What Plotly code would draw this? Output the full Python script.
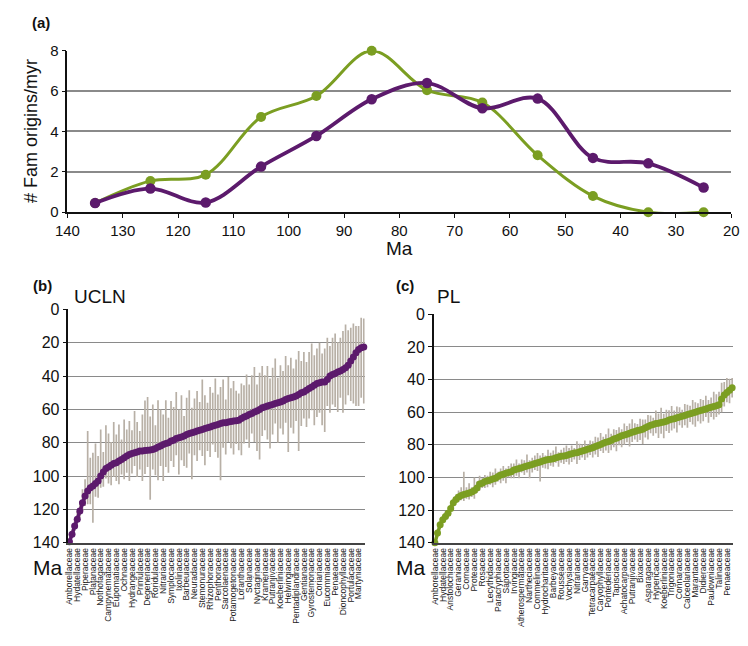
import plotly.graph_objects as go

# ---------------- (a) family origination rate per 10-Myr bin ----------------
bin_mid_ma = [135, 125, 115, 105, 95, 85, 75, 65, 55, 45, 35, 25]
rate_pl = [0.45, 1.55, 1.86, 4.72, 5.76, 8.0, 6.05, 5.44, 2.82, 0.8, 0.0, 0.0]
rate_ucln = [0.45, 1.17, 0.48, 2.26, 3.78, 5.6, 6.4, 5.15, 5.63, 2.69, 2.42, 1.22]
rate_ticks = [140, 130, 120, 110, 100, 90, 80, 70, 60, 50, 40, 30, 20]

# ---------------- (b) UCLN family stem ages (sorted, oldest first) ----------------
ucln_labels = [
    "Amborellaceae", "Hydatellaceae", "Piperaceae", "Platanaceae", "Nothofagaceae",
    "Campynemataceae", "Eupomatiaceae", "Ochnaceae", "Hydrangeaceae", "Primulaceae",
    "Degeneriaceae", "Roridulaceae", "Nitrariaceae", "Symplocaceae", "Ixoliriaceae",
    "Barbeuiaceae", "Neuradaceae", "Stemonuraceae", "Rhizophoraceae", "Penthoraceae",
    "Sarcolaenaceae", "Potamogetonaceae", "Loranthaceae", "Solanaceae", "Nyctaginaceae",
    "Krameriaceae", "Putranjivaceae", "Koeberliniaceae", "Helwingiaceae",
    "Pentadiplandraceae", "Gentianaceae", "Gyrostemonaceae", "Coriariaceae",
    "Eucommiaceae", "Penaeaceae", "Dioncophyllaceae", "Portulacaceae", "Martyniaceae",
]
ucln_age = [
    139.5, 135, 130, 126, 121, 116, 112, 109, 107, 106,
    104.5, 103, 100, 97.5, 95.5, 94.5, 93.5, 92.5, 92, 91,
    90, 89, 88, 87, 86.5, 86, 85.5, 85, 85, 84.7,
    84.5, 84.3, 84, 83.5, 82.5, 82, 81, 80.5, 80, 79,
    78.5, 77.5, 77, 76.5, 76, 75, 74.5, 74, 73.5, 73,
    72.5, 72, 71.5, 71, 70.5, 70, 69.5, 69, 68.5, 68,
    68, 67.5, 67.3, 67, 66.8, 66.5, 65.5, 64.5, 64, 63,
    62.5, 61.5, 61, 60, 59, 58.5, 58, 57.5, 57, 56.5,
    56, 55.5, 55, 54, 53.5, 53, 52.5, 52, 51, 50,
    49.5, 48.5, 47.5, 46.5, 45.5, 44.5, 44, 43.5, 43.5, 42,
    40, 39, 38.5, 37.5, 37, 36, 35, 33.5, 31, 28.5,
    26, 24, 23, 22.5,
]
ucln_err_young = [
    2, 3, 4, 5, 6, 8, 10, 36, 18, 20,
    24, 15, 28, 12, 26, 20, 14, 25, 17, 22,
    12, 23, 16, 20, 14, 25, 18, 12, 22, 30,
    32, 20, 27, 14, 28, 22, 18, 26, 15, 24,
    20, 28, 17, 25, 12, 22, 26, 15, 20, 24,
    17, 30, 20, 15, 24, 20, 28, 18, 22, 26,
    14, 27, 20, 24, 18, 16, 21, 19, 25, 18,
    23, 27, 16, 22, 25, 19, 24, 16, 22, 27,
    15, 22, 18, 26, 20, 24, 17, 22, 26, 19,
    24, 17, 22, 26, 18, 21, 24, 17, 20, 25,
    18, 22, 24, 18, 20, 23, 26, 21, 20, 20,
    16, 14, 18, 17,
]
ucln_err_old = [
    0, 2, 3, 3, 4, 5, 6, 8, 10, 22,
    8, 10, 7, 9, 6, 10, 12, 8, 11, 14,
    9, 13, 10, 16, 12, 8, 15, 11, 18, 14,
    10, 30, 12, 16, 20, 12, 22, 14, 18, 12,
    16, 10, 22, 14, 18, 20, 12, 28, 14, 18,
    12, 16, 22, 14, 18, 11, 16, 20, 34, 15,
    19, 12, 16, 20, 14, 18, 22, 16, 14, 20,
    12, 18, 24, 30, 17, 14, 20, 26, 18, 12,
    24, 16, 20, 14, 32, 18, 22, 15, 34, 20,
    16, 22, 18, 14, 24, 20, 18, 26, 30, 16,
    22, 18, 20, 24, 16, 26, 22, 18, 24, 28,
    32, 34, 30, 34,
]

# ---------------- (c) PL family stem ages (sorted, oldest first) ----------------
pl_labels = [
    "Amborellaceae", "Hydatellaceae", "Aristolochiaceae", "Geraniaceae", "Cornaceae",
    "Proteaceae", "Rosaceae", "Lecythidaceae", "Paracryphiaceae", "Sapotaceae",
    "Irvingiaceae", "Atherospermataceae", "Nartheciaceae", "Commelinaceae",
    "Hydrocharitaceae", "Barbeyaceae", "Rousseaceae", "Vochysiaceae", "Nitrariaceae",
    "Garryaceae", "Tetracarpaeaceae", "Caryophyllaceae", "Pontederiaceae",
    "Tapisciaceae", "Achatocarpaceae", "Putranjivaceae", "Bixaceae", "Asparagaceae",
    "Hypericaceae", "Koeberliniaceae", "Trigoniaceae", "Connaraceae",
    "Calceolariaceae", "Marantaceae", "Didieraceae", "Paulowniaceae", "Talinaceae",
    "Penaeaceae",
]
pl_age = [
    140, 134, 129, 126, 124, 122, 119, 115.5, 113.5, 112,
    111, 110.5, 110, 109.5, 109, 108, 106.5, 104, 103.5, 102.5,
    102, 101.5, 101, 100.5, 99.5, 98.5, 98, 97.5, 97, 96.5,
    95.5, 95, 94.5, 94, 93.5, 93, 92.5, 92, 91.5, 91,
    90.5, 90, 89.5, 89, 88.8, 88.5, 88, 87.5, 87, 86.8,
    86.5, 86, 85.5, 85, 84.8, 84.3, 83.8, 83.3, 82.8, 82.3,
    81.8, 81, 80.5, 79.8, 79, 78.5, 78, 77.3, 76.5, 76,
    75.3, 74.5, 74, 73.5, 73, 72.3, 71.8, 71.3, 71, 70.5,
    69.5, 68.8, 68, 67.5, 67, 66.8, 66.3, 66, 65.5, 64.8,
    64.3, 64, 63.5, 63, 62.5, 62, 61.5, 61, 60.5, 60,
    59.5, 59, 58.5, 58, 57.5, 57, 56.5, 56, 55.5, 52,
    49.5, 48, 46.5, 45,
]
pl_err_young = [
    1, 2, 2, 2, 3, 2, 3, 2, 3, 4,
    5, 14, 4, 6, 3, 8, 4, 5, 3, 4,
    3, 5, 4, 6, 3, 4, 5, 3, 4, 5,
    4, 6, 3, 5, 4, 7, 3, 4, 5, 6,
    4, 5, 3, 6, 4, 5, 7, 3, 4, 5,
    6, 4, 5, 3, 7, 5, 4, 6, 3, 5,
    4, 6, 5, 7, 4, 5, 8, 4, 6, 5,
    6, 4, 7, 5, 6, 8, 5, 4, 7, 6,
    5, 7, 6, 4, 8, 6, 9, 5, 7, 6,
    8, 5, 7, 6, 4, 7, 6, 5, 8, 6,
    5, 7, 6, 8, 5, 6, 9, 7, 8, 10,
    8, 9, 7, 6,
]
pl_err_old = [
    0, 2, 2, 2, 2, 3, 2, 3, 2, 3,
    3, 4, 3, 4, 3, 5, 3, 4, 3, 4,
    4, 3, 5, 4, 3, 5, 4, 6, 3, 4,
    5, 4, 6, 3, 5, 4, 8, 5, 4, 5,
    12, 4, 5, 6, 4, 5, 3, 6, 4, 5,
    4, 6, 5, 4, 7, 5, 4, 6, 5, 4,
    6, 5, 7, 4, 6, 5, 7, 6, 5, 8,
    5, 7, 6, 5, 8, 6, 5, 7, 6, 9,
    6, 8, 5, 7, 6, 9, 7, 10, 6, 8,
    7, 6, 9, 5, 7, 6, 8, 5, 7, 9,
    6, 8, 7, 5, 9, 6, 8, 7, 6, 8,
    7, 6, 8, 6,
]

# ---------------- styling ----------------
W, H = 748, 646
FONT = "Liberation Sans, Arial, sans-serif"
PURPLE = "#5c1a6c"
GREEN = "#7b9e22"
BAR_GREY = "#b8b0a6"
GRID = "#8a8a8a"
LABEL_STEP = 3


def px_x(x):
    return x / W


def px_y(y):
    return 1 - y / H


fig = go.Figure()

# (a) rate curves
fig.add_trace(go.Scatter(
    x=bin_mid_ma, y=rate_pl, mode="lines+markers", xaxis="x", yaxis="y",
    line=dict(color=GREEN, width=3, shape="spline", smoothing=1.0),
    marker=dict(color=GREEN, size=10), cliponaxis=False, showlegend=False,
))
fig.add_trace(go.Scatter(
    x=bin_mid_ma, y=rate_ucln, mode="lines+markers", xaxis="x", yaxis="y",
    line=dict(color=PURPLE, width=3.8, shape="spline", smoothing=1.0),
    marker=dict(color=PURPLE, size=10.5), cliponaxis=False, showlegend=False,
))

# (b) UCLN ages with credibility bars
ucln_idx = list(range(len(ucln_age)))
fig.add_trace(go.Scatter(
    x=ucln_idx, y=ucln_age, mode="markers", xaxis="x2", yaxis="y2",
    marker=dict(size=1, color="rgba(0,0,0,0)"),
    error_y=dict(type="data", symmetric=False, array=ucln_err_old,
                 arrayminus=ucln_err_young, color=BAR_GREY, thickness=1.7, width=0),
    showlegend=False, hoverinfo="skip",
))
fig.add_trace(go.Scatter(
    x=ucln_idx, y=ucln_age, mode="lines+markers", xaxis="x2", yaxis="y2",
    line=dict(color=PURPLE, width=3.5),
    marker=dict(color=PURPLE, size=7), cliponaxis=False, showlegend=False,
))

# (c) PL ages with confidence bars
pl_idx = list(range(len(pl_age)))
fig.add_trace(go.Scatter(
    x=pl_idx, y=pl_age, mode="markers", xaxis="x3", yaxis="y3",
    marker=dict(size=1, color="rgba(0,0,0,0)"),
    error_y=dict(type="data", symmetric=False, array=pl_err_old,
                 arrayminus=pl_err_young, color=BAR_GREY, thickness=1.7, width=0),
    showlegend=False, hoverinfo="skip",
))
fig.add_trace(go.Scatter(
    x=pl_idx, y=pl_age, mode="lines+markers", xaxis="x3", yaxis="y3",
    line=dict(color=GREEN, width=3.5),
    marker=dict(color=GREEN, size=7), cliponaxis=False, showlegend=False,
))

tick_font = dict(family=FONT, size=15, color="#111")
cat_font = dict(family=FONT, size=8.5, color="#222")

fig.update_layout(
    width=W, height=H, margin=dict(l=0, r=0, t=0, b=0),
    paper_bgcolor="white", plot_bgcolor="white",
    font=dict(family=FONT, color="#111"),
    xaxis=dict(
        domain=[px_x(56), px_x(739)], range=[140, 20], anchor="y",
        tickvals=rate_ticks, tickfont=tick_font, ticks="outside", ticklen=4,
        tickcolor="#111", showline=True, linecolor="#111", linewidth=1.5,
        showgrid=False, zeroline=False,
    ),
    yaxis=dict(
        domain=[px_y(209), px_y(43)], range=[0, 8], anchor="x", dtick=2,
        tickfont=tick_font, ticks="outside", ticklen=4, tickcolor="#111",
        showline=True, linecolor="#111", linewidth=1.5,
        showgrid=True, gridcolor=GRID, gridwidth=1.6, zeroline=False,
    ),
    xaxis2=dict(
        domain=[px_x(57), px_x(362)], range=[-0.4, len(ucln_age) - 0.6], anchor="y2",
        tickvals=ucln_idx[::LABEL_STEP], ticktext=ucln_labels, tickangle=-90,
        tickfont=cat_font, ticks="", showline=True, linecolor="#444", linewidth=2,
        showgrid=False, zeroline=False,
    ),
    yaxis2=dict(
        domain=[px_y(549), px_y(309)], range=[140, 0], anchor="x2", dtick=20,
        tickfont=dict(family=FONT, size=16, color="#111"), ticks="outside",
        ticklen=4, tickcolor="#111", showline=True, linecolor="#111", linewidth=1.5,
        showgrid=True, gridcolor=GRID, gridwidth=1.4, zeroline=False,
    ),
    xaxis3=dict(
        domain=[px_x(433), px_x(741)], range=[-0.4, len(pl_age) - 0.6], anchor="y3",
        tickvals=pl_idx[::LABEL_STEP], ticktext=pl_labels, tickangle=-90,
        tickfont=cat_font, ticks="", showline=True, linecolor="#444", linewidth=2,
        showgrid=False, zeroline=False,
    ),
    yaxis3=dict(
        domain=[px_y(549), px_y(314)], range=[140, 0], anchor="x3", dtick=20,
        tickfont=dict(family=FONT, size=16, color="#111"), ticks="outside",
        ticklen=4, tickcolor="#111", showline=True, linecolor="#111", linewidth=1.5,
        showgrid=True, gridcolor=GRID, gridwidth=1.4, zeroline=False,
    ),
)


def text(x, y, s, size, bold=False, angle=0, xanchor="left"):
    fig.add_annotation(
        x=px_x(x), y=px_y(y), xref="paper", yref="paper", text=f"<b>{s}</b>" if bold else s,
        showarrow=False, xanchor=xanchor, yanchor="middle", textangle=angle,
        font=dict(family=FONT, size=size, color="#111"),
    )


text(18, 14, "(a)", 15, bold=True)
text(18, 125, "# Fam origins/myr", 18, angle=-90, xanchor="center")
text(398, 246, "Ma", 19, xanchor="center")
text(19, 284, "(b)", 15, bold=True)
text(61, 296, "UCLN", 19)
text(19, 574, "Ma", 21)
text(392, 284, "(c)", 15, bold=True)
text(434, 296, "PL", 19)
text(392, 574, "Ma", 21)

fig.write_html("out.html")
